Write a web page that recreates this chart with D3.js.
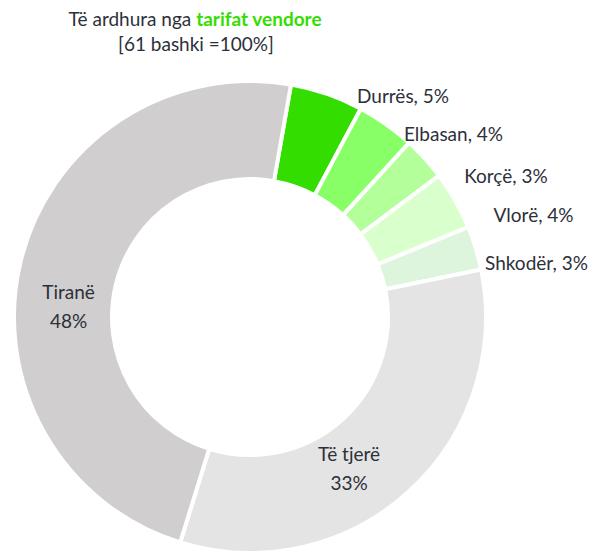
<!DOCTYPE html>
<html>
<head>
<meta charset="utf-8">
<script src="https://cdn.jsdelivr.net/npm/d3@7"></script>
<style>
  html, body { margin: 0; padding: 0; background: #fff; }
  svg { display: block; font-family: Lato, "Open Sans", sans-serif; }
</style>
</head>
<body>
<svg id="chart" width="595" height="553"></svg>
<script>
// slices, clockwise from the first one
const names = ['Durrës', 'Elbasan', 'Korçë', 'Vlorë', 'Shkodër', 'Të tjerë', 'Tiranë'];
const shares = [5, 4, 3, 4, 3, 33, 48];
const colors = ['#33dd00', '#88ff66', '#b3ff99', '#d9ffcc', '#dcf5dc', '#e4e4e4', '#d0cece'];
const outside = [true, true, true, true, true, false, false];

// label placement relative to slice middle: angle shift (deg) and radius
const labelShift = [6.9, 4.9, 9, 6.9, 4.2, 8.4, -9.2];
const labelRadius = [245, 239, 256, 264, 241, 178, 182];

const svg = d3.select('#chart');
const cx = 250, cy = 317, rOuter = 236, rInner = 138;
const textColor = '#2d3039';
const fs = '19px';
const rot = 10 * Math.PI / 180; // first slice starts a bit past 12 o'clock

const pie = d3.pie().sort(null).value(d => d.v)
  .startAngle(rot).endAngle(rot + 2 * Math.PI);
const arc = d3.arc().innerRadius(rInner).outerRadius(rOuter);

const data = names.map((n, i) => ({ n, v: shares[i], c: colors[i], out: outside[i], i }));
const arcs = pie(data);

const g = svg.append('g').attr('transform', `translate(${cx},${cy})`);

g.selectAll('path.slice')
  .data(arcs)
  .join('path')
  .attr('class', 'slice')
  .attr('d', arc)
  .attr('fill', d => d.data.c)
  .attr('stroke', '#fff')
  .attr('stroke-width', 4)
  .attr('stroke-linejoin', 'miter');

function labelXY(d) {
  const a = (d.startAngle + d.endAngle) / 2 + labelShift[d.data.i] * Math.PI / 180;
  const r = labelRadius[d.data.i];
  return [r * Math.sin(a), -r * Math.cos(a)];
}

// outside labels
g.selectAll('text.out')
  .data(arcs.filter(d => d.data.out))
  .join('text')
  .attr('class', 'out')
  .attr('x', d => labelXY(d)[0])
  .attr('y', d => labelXY(d)[1])
  .attr('dy', '0.35em')
  .attr('fill', textColor)
  .style('font-size', fs)
  .text(d => `${d.data.n}, ${d.data.v}%`);

// inside labels (two lines)
const inl = g.selectAll('text.in')
  .data(arcs.filter(d => !d.data.out))
  .join('text')
  .attr('class', 'in')
  .attr('text-anchor', 'middle')
  .attr('fill', textColor)
  .style('font-size', fs)
  .attr('transform', d => `translate(${labelXY(d)})`);
inl.append('tspan').attr('x', 0).attr('dy', '-0.2em').text(d => d.data.n);
inl.append('tspan').attr('x', 0).attr('dy', '1.5em').text(d => d.data.v + '%');

// title
const title = svg.append('text')
  .attr('x', 195).attr('y', 26)
  .attr('text-anchor', 'middle')
  .attr('fill', textColor)
  .style('font-size', fs);
title.append('tspan').text('Të ardhura nga ');
title.append('tspan').attr('fill', '#33dd00').attr('font-weight', 'bold').text('tarifat vendore');

svg.append('text')
  .attr('x', 196).attr('y', 51)
  .attr('text-anchor', 'middle')
  .attr('fill', textColor)
  .style('font-size', fs)
  .text('[61 bashki =100%]');
</script>
</body>
</html>
